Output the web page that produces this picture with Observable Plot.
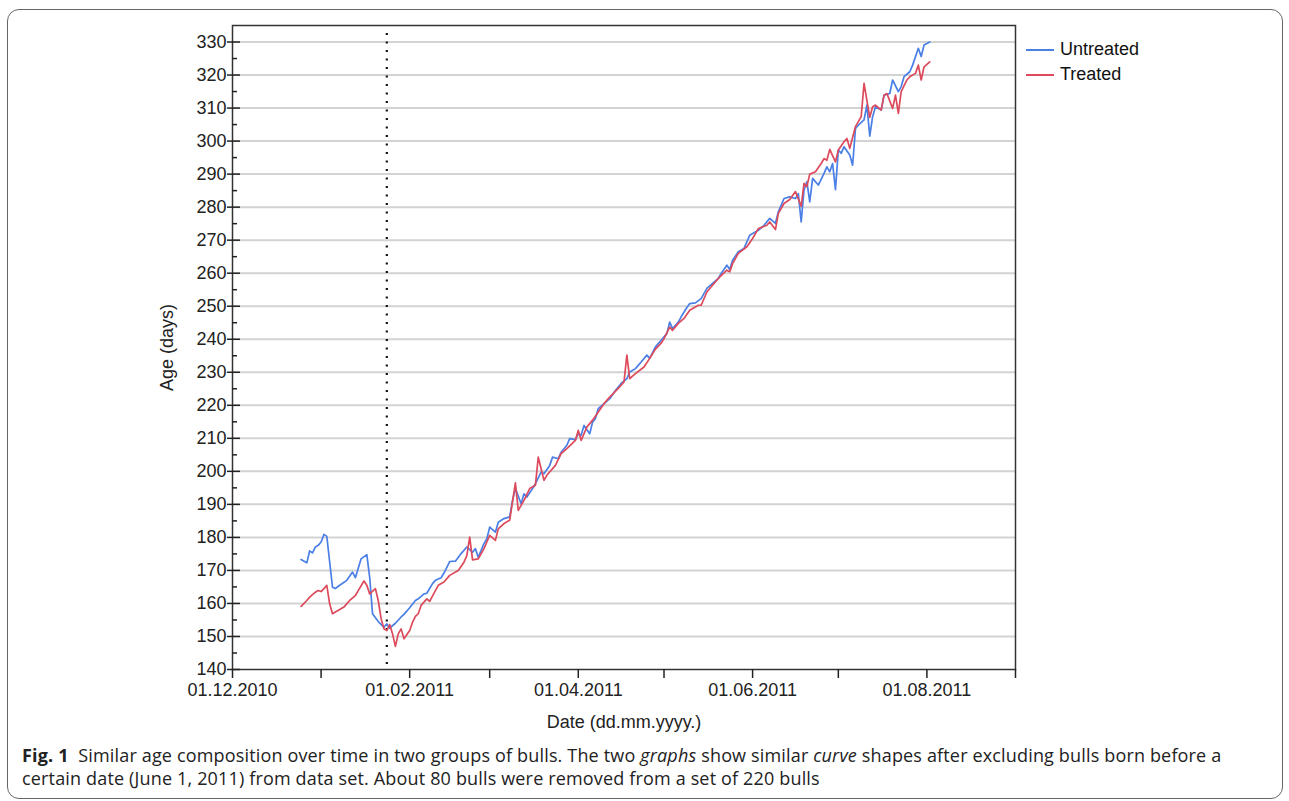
<!DOCTYPE html>
<html><head><meta charset="utf-8">
<script src="https://cdn.jsdelivr.net/npm/d3@7"></script>
<script src="https://cdn.jsdelivr.net/npm/@observablehq/plot@0.6"></script>
<style>
html,body{margin:0;padding:0;background:#fff;}
#page{position:relative;width:1289px;height:801px;overflow:hidden;background:#fff;}
#border{position:absolute;left:7px;top:9px;width:1276px;height:790px;border:1.5px solid #666;border-radius:12px;box-sizing:border-box;}
#chart{position:absolute;left:0;top:0;}
#legend{position:absolute;left:1026px;top:37px;font-family:"Liberation Sans",Arial,sans-serif;font-size:18px;color:#111;}
.item{display:flex;align-items:center;height:25px;}
.sw{width:28px;height:2px;margin-right:6px;}
#caption{position:absolute;left:22px;top:744px;font-family:"Open Sans",sans-serif;font-size:18px;letter-spacing:0.16px;line-height:23px;color:#222;white-space:nowrap;}
</style></head>
<body>
<div id="page">
<div id="border"></div>
<div id="chart"></div>
<div id="legend">
  <div class="item"><div class="sw" style="background:#4a7fe6"></div>Untreated</div>
  <div class="item"><div class="sw" style="background:#dc4a5c"></div>Treated</div>
</div>
<div id="caption"><b>Fig. 1</b>&nbsp;&nbsp;Similar age composition over time in two groups of bulls. The two <i>graphs</i> show similar <i>curve</i> shapes after excluding bulls born before a<br>certain date (June 1, 2011) from data set. About 80 bulls were removed from a set of 220 bulls</div>
</div>
<script>
// ---- data ----
const untreatedDates = ["2010-12-25","2010-12-27","2010-12-28","2010-12-29","2010-12-30","2010-12-31","2011-01-01","2011-01-02","2011-01-03","2011-01-05","2011-01-06","2011-01-07","2011-01-10","2011-01-12","2011-01-13","2011-01-15","2011-01-17","2011-01-18","2011-01-19","2011-01-21","2011-01-23","2011-01-24","2011-01-25","2011-01-27","2011-01-29","2011-01-30","2011-02-01","2011-02-03","2011-02-04","2011-02-06","2011-02-07","2011-02-09","2011-02-10","2011-02-12","2011-02-13","2011-02-15","2011-02-17","2011-02-19","2011-02-21","2011-02-23","2011-02-24","2011-02-25","2011-02-27","2011-02-28","2011-03-01","2011-03-03","2011-03-04","2011-03-06","2011-03-08","2011-03-09","2011-03-10","2011-03-12","2011-03-13","2011-03-14","2011-03-16","2011-03-17","2011-03-19","2011-03-20","2011-03-22","2011-03-23","2011-03-25","2011-03-26","2011-03-28","2011-03-29","2011-03-31","2011-04-01","2011-04-02","2011-04-03","2011-04-05","2011-04-06","2011-04-07","2011-04-08","2011-04-10","2011-04-12","2011-04-14","2011-04-16","2011-04-18","2011-04-19","2011-04-21","2011-04-23","2011-04-25","2011-04-26","2011-04-28","2011-04-30","2011-05-02","2011-05-03","2011-05-04","2011-05-06","2011-05-07","2011-05-09","2011-05-10","2011-05-12","2011-05-14","2011-05-16","2011-05-18","2011-05-20","2011-05-21","2011-05-23","2011-05-24","2011-05-25","2011-05-27","2011-05-29","2011-05-31","2011-06-03","2011-06-05","2011-06-07","2011-06-09","2011-06-10","2011-06-12","2011-06-14","2011-06-16","2011-06-17","2011-06-18","2011-06-19","2011-06-20","2011-06-21","2011-06-22","2011-06-24","2011-06-26","2011-06-27","2011-06-28","2011-06-29","2011-06-30","2011-07-01","2011-07-02","2011-07-03","2011-07-05","2011-07-06","2011-07-07","2011-07-08","2011-07-10","2011-07-11","2011-07-12","2011-07-13","2011-07-14","2011-07-16","2011-07-17","2011-07-19","2011-07-20","2011-07-22","2011-07-23","2011-07-24","2011-07-26","2011-07-27","2011-07-29","2011-07-30","2011-07-31","2011-08-02"];
const untreatedAge = [173.3,172.3,175.9,175.3,177.1,177.6,178.6,180.9,180.3,164.9,164.5,165.2,167.0,169.5,167.8,173.5,174.8,168.0,156.9,154.5,152.8,153.8,152.5,154.0,155.9,156.7,158.7,160.9,161.4,162.9,163.1,166.0,167.0,167.8,169.2,172.7,172.8,175.1,177.1,175.5,176.6,174.0,178.1,179.6,183.1,181.6,184.6,185.7,186.2,191.2,194.8,190.2,193.2,192.2,194.8,196.3,199.8,199.3,201.8,204.3,203.8,205.8,207.9,209.9,209.6,211.4,210.9,213.9,211.4,214.9,216.0,219.0,220.5,222.0,224.5,226.6,228.1,230.1,231.1,233.1,235.2,234.2,237.7,239.7,241.7,245.2,243.2,245.2,246.8,249.6,250.8,251.0,252.3,255.4,256.9,258.4,259.9,262.4,261.1,263.9,266.5,267.5,271.5,273.0,274.5,276.6,275.1,278.6,282.6,283.1,282.6,284.1,275.5,285.2,287.7,281.6,288.7,286.7,290.2,292.2,290.7,293.2,285.3,297.3,296.3,298.3,295.8,292.7,303.8,304.8,306.4,310.9,301.5,307.4,310.4,309.4,313.9,314.4,318.5,315.0,316.5,319.5,321.0,323.0,328.1,325.6,329.1,330.0];

const treatedDates = ["2010-12-25","2010-12-27","2010-12-28","2010-12-30","2010-12-31","2011-01-01","2011-01-02","2011-01-03","2011-01-04","2011-01-05","2011-01-06","2011-01-09","2011-01-11","2011-01-13","2011-01-14","2011-01-16","2011-01-17","2011-01-18","2011-01-20","2011-01-21","2011-01-22","2011-01-23","2011-01-24","2011-01-25","2011-01-26","2011-01-27","2011-01-28","2011-01-29","2011-01-30","2011-02-01","2011-02-02","2011-02-03","2011-02-04","2011-02-05","2011-02-07","2011-02-08","2011-02-10","2011-02-11","2011-02-13","2011-02-15","2011-02-18","2011-02-20","2011-02-21","2011-02-22","2011-02-23","2011-02-25","2011-02-27","2011-02-28","2011-03-01","2011-03-03","2011-03-04","2011-03-06","2011-03-08","2011-03-10","2011-03-11","2011-03-13","2011-03-15","2011-03-17","2011-03-18","2011-03-20","2011-03-21","2011-03-24","2011-03-26","2011-03-28","2011-03-31","2011-04-01","2011-04-02","2011-04-04","2011-04-06","2011-04-08","2011-04-10","2011-04-12","2011-04-15","2011-04-17","2011-04-18","2011-04-19","2011-04-21","2011-04-24","2011-04-26","2011-04-28","2011-04-30","2011-05-01","2011-05-03","2011-05-04","2011-05-06","2011-05-08","2011-05-10","2011-05-13","2011-05-14","2011-05-16","2011-05-18","2011-05-20","2011-05-23","2011-05-24","2011-05-25","2011-05-27","2011-05-30","2011-06-01","2011-06-03","2011-06-06","2011-06-07","2011-06-09","2011-06-10","2011-06-12","2011-06-14","2011-06-16","2011-06-18","2011-06-19","2011-06-20","2011-06-21","2011-06-23","2011-06-25","2011-06-26","2011-06-27","2011-06-28","2011-06-30","2011-07-01","2011-07-03","2011-07-04","2011-07-05","2011-07-07","2011-07-08","2011-07-09","2011-07-10","2011-07-12","2011-07-13","2011-07-14","2011-07-16","2011-07-17","2011-07-18","2011-07-20","2011-07-21","2011-07-22","2011-07-23","2011-07-25","2011-07-26","2011-07-28","2011-07-29","2011-07-30","2011-07-31","2011-08-02"];
const treatedAge = [159.1,160.9,161.9,163.4,163.9,163.6,164.5,165.5,159.9,156.9,157.4,158.9,160.9,162.4,163.9,166.8,165.5,162.9,164.5,160.9,155.4,152.3,151.8,153.6,150.8,147.0,150.8,152.3,149.3,151.8,154.3,156.1,156.9,159.4,161.4,160.6,163.9,165.5,166.5,168.5,170.0,172.5,174.5,180.1,173.2,173.5,176.6,178.6,180.6,179.1,182.6,184.2,185.2,196.5,188.2,191.2,194.8,195.8,204.3,197.3,198.8,201.8,205.4,206.9,209.4,212.4,209.4,213.4,215.5,218.0,220.5,222.5,225.1,227.1,235.2,228.1,229.6,231.6,234.2,237.0,238.8,240.2,243.7,242.7,244.8,246.3,248.8,250.3,250.3,254.3,256.4,258.4,260.9,260.4,262.9,266.0,268.0,270.5,273.5,274.5,275.5,273.2,278.1,281.1,282.3,284.7,280.3,287.2,286.2,290.0,290.7,293.2,294.7,294.2,297.5,293.7,297.3,299.8,300.8,297.8,304.4,305.9,307.4,317.5,307.2,310.4,310.9,309.4,313.9,314.4,309.9,313.9,308.4,315.0,318.5,319.5,320.5,323.0,318.5,322.5,324.0];

const seriesNames = ["Untreated", "Treated"];
const seriesColors = ["#4a7fe6", "#dc4a5c"];
const cutoffDate = ["2011-01-24"];
const xDomainDates = ["2010-12-01", "2011-09-01"];
const xLabelTicks = ["2010-12-01", "2011-02-01", "2011-04-01", "2011-06-01", "2011-08-01"];
const xOtherTicks = ["2011-01-01", "2011-03-01", "2011-05-01", "2011-07-01", "2011-09-01"];
const yDomain = [140, 335];
const yTicks = [140,150,160,170,180,190,200,210,220,230,240,250,260,270,280,290,300,310,320,330];
const yMinorTicks = [145,155,165,175,185,195,205,215,225,235,245,255,265,275,285,295,305,315,325,335];

// ---- build ----
const toDate = s => new Date(s + "T00:00:00Z");
const rows = [
  ...untreatedDates.map((d, i) => ({date: toDate(d), age: untreatedAge[i], group: seriesNames[0]})),
  ...treatedDates.map((d, i) => ({date: toDate(d), age: treatedAge[i], group: seriesNames[1]}))
];
const fmt = d3.utcFormat("%d.%m.%Y");

const chart = Plot.plot({
  width: 1289,
  height: 740,
  marginLeft: 232,
  marginRight: 274,
  marginTop: 25,
  marginBottom: 71,
  style: {fontFamily: '"Liberation Sans", Arial, sans-serif', fontSize: "18px", color: "#222", background: "transparent", overflow: "visible"},
  x: {type: "utc", domain: xDomainDates.map(toDate)},
  y: {domain: yDomain},
  color: {domain: seriesNames, range: seriesColors},
  marks: [
    Plot.gridY(yTicks.filter(v => v > yDomain[0]), {stroke: "#d3d3d3", strokeOpacity: 1, strokeWidth: 2}),
    Plot.ruleX(cutoffDate.map(toDate), {stroke: "#111", strokeWidth: 2.2, strokeDasharray: "2,6.5", insetTop: 8}),
    Plot.line(rows, {x: "date", y: "age", z: "group", stroke: "group", strokeWidth: 1.7}),
    Plot.frame({stroke: "#333", strokeWidth: 1.5}),
    Plot.axisY(yTicks, {tickSize: 5, tickPadding: 1, strokeWidth: 1.5, label: "Age (days)", labelAnchor: "center", labelOffset: 72, labelArrow: "none"}),
    Plot.axisY(yTicks, {tickSize: -8, strokeWidth: 1.5, tickFormat: () => "", label: null}),
    Plot.axisY(yMinorTicks.filter(v => v < yDomain[1]), {tickSize: -5, strokeWidth: 1.5, tickFormat: () => "", label: null}),
    Plot.axisX(xLabelTicks.map(toDate), {tickSize: 9, tickPadding: 5, strokeWidth: 1.5, tickFormat: fmt, label: "Date (dd.mm.yyyy.)", labelAnchor: "center", labelOffset: 58, labelArrow: "none"}),
    Plot.axisX(xOtherTicks.map(toDate), {tickSize: 9, strokeWidth: 1.5, tickFormat: () => "", label: null})
  ]
});
document.getElementById("chart").appendChild(chart);
</script>
</body></html>
